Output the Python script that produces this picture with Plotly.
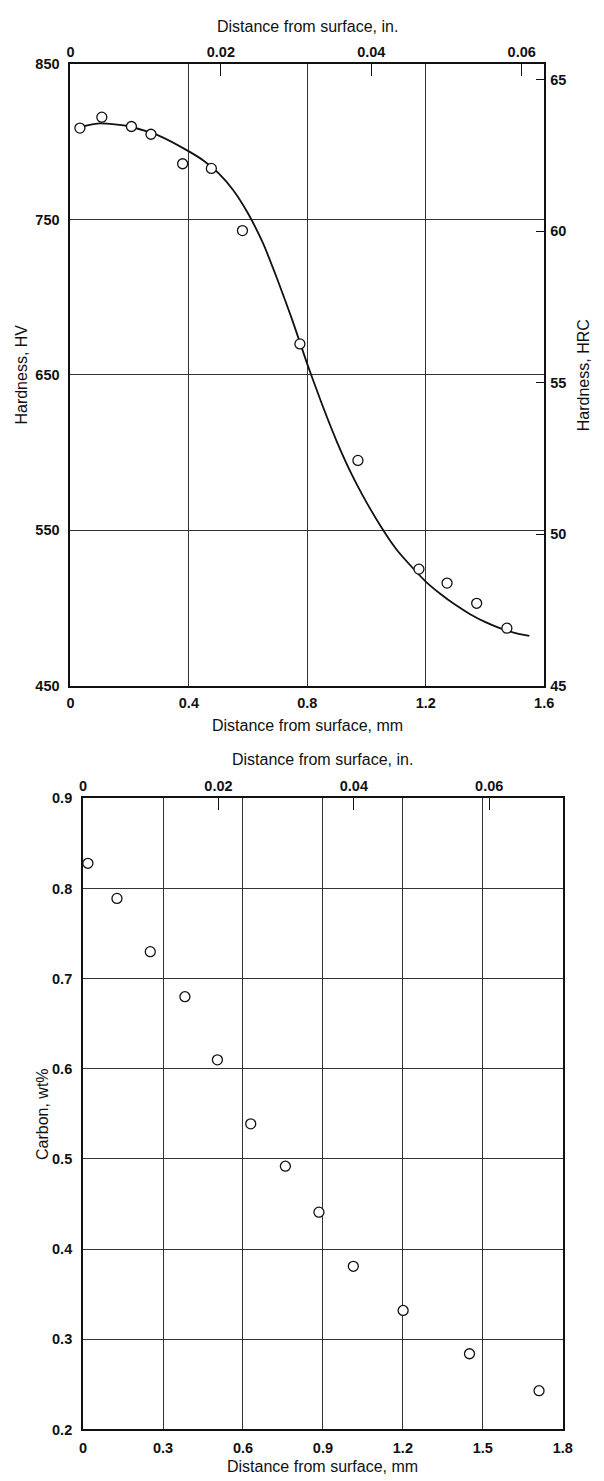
import plotly.graph_objects as go

W, H = 604, 1481
MM_PER_IN = 25.4

# Hardness traverse: measured points (distance in mm, Vickers hardness)
hv_depth_mm = [0.032, 0.106, 0.206, 0.272, 0.379, 0.476, 0.581, 0.775, 0.971, 1.177, 1.272, 1.372, 1.474]
hv_values = [809, 816, 810, 805, 786, 783, 743, 670, 595, 525, 516, 503, 487]

# Faired hardness curve drawn through the measurements
curve_depth_mm = [0.04, 0.10, 0.20, 0.30, 0.40, 0.45, 0.50, 0.55, 0.60, 0.65, 0.70, 0.75,
                  0.80, 0.85, 0.90, 0.95, 1.00, 1.05, 1.10, 1.15, 1.20, 1.25, 1.30, 1.35,
                  1.40, 1.45, 1.50, 1.55]
curve_hv = [810, 812, 810, 804, 794, 788, 780, 769, 754, 735, 711, 685,
            657, 631, 607, 586, 568, 552, 538, 527, 517, 509, 502, 496,
            491, 487, 484, 482]

# Carbon profile: measured points (distance in mm, carbon wt%)
carbon_depth_mm = [0.018, 0.127, 0.252, 0.382, 0.504, 0.629, 0.759, 0.885, 1.014, 1.201, 1.450, 1.711]
carbon_wt = [0.828, 0.789, 0.730, 0.680, 0.610, 0.539, 0.492, 0.441, 0.381, 0.332, 0.284, 0.243]

# Tick labels
hv_ticks = [450, 550, 650, 750, 850]
hrc_ticks = [45, 50, 55, 60, 65]
mm_ticks_top = [0, 0.4, 0.8, 1.2, 1.6]
mm_ticks_bottom = [0, 0.3, 0.6, 0.9, 1.2, 1.5, 1.8]
carbon_ticks = [0.2, 0.3, 0.4, 0.5, 0.6, 0.7, 0.8, 0.9]
inch_ticks = [0, 0.02, 0.04, 0.06]

FONT = "Liberation Sans, Arial, sans-serif"
TICK_FONT = dict(family=FONT, size=14.5, color="#111", weight="bold")
TITLE_FONT = dict(family=FONT, size=16, color="#111")
GRID = "#333333"


def px_x(p):
    return p / W


def px_y(p):
    return 1 - p / H


# plot-area rectangles in pixels (left, right, top, bottom)
TOP = (68, 553, 57, 685)
BOT = (81, 572, 799, 1437)

open_marker = dict(symbol="circle", size=10, color="white", line=dict(color="#111", width=1.3))

fig = go.Figure()

fig.add_trace(go.Scatter(
    x=curve_depth_mm, y=curve_hv, mode="lines",
    line=dict(color="#111", width=1.8, shape="spline", smoothing=0.6),
    xaxis="x", yaxis="y", hoverinfo="skip", showlegend=False))
fig.add_trace(go.Scatter(
    x=hv_depth_mm, y=hv_values, mode="markers", marker=open_marker,
    xaxis="x", yaxis="y", showlegend=False))
fig.add_trace(go.Scatter(
    x=carbon_depth_mm, y=carbon_wt, mode="markers", marker=open_marker,
    xaxis="x3", yaxis="y3", showlegend=False))

# empty traces so the secondary (inch / HRC) scales get drawn
for xa, ya in (("x2", "y"), ("x", "y2"), ("x4", "y3")):
    fig.add_trace(go.Scatter(x=[], y=[], mode="none", xaxis=xa, yaxis=ya,
                             showlegend=False, hoverinfo="skip"))

top_xdom = [px_x(TOP[0]), px_x(TOP[1])]
top_ydom = [px_y(TOP[3]), px_y(TOP[2])]
bot_xdom = [px_x(BOT[0]), px_x(BOT[1])]
bot_ydom = [px_y(BOT[3]), px_y(BOT[2])]

common_main = dict(showline=True, linewidth=2, linecolor="#111", mirror=True,
                   showgrid=True, gridcolor=GRID, gridwidth=1, zeroline=False,
                   ticks="", tickfont=TICK_FONT)
inch_axis = dict(side="top", tickvals=inch_ticks, ticktext=[f"{v:g}" for v in inch_ticks],
                 ticks="inside", ticklen=12, tickwidth=1.2, tickcolor="#111",
                 showgrid=False, zeroline=False, showline=False,
                 tickfont=TICK_FONT, ticklabelstandoff=3)

fig.update_layout(
    width=W, height=H,
    margin=dict(l=0, r=0, t=0, b=0),
    paper_bgcolor="white", plot_bgcolor="white",
    showlegend=False,
    xaxis=dict(domain=top_xdom, anchor="y", range=[0, 1.6],
               tickvals=mm_ticks_top, ticktext=[f"{v:g}" for v in mm_ticks_top],
               ticklabelstandoff=3, **common_main),
    yaxis=dict(domain=top_ydom, anchor="x", range=[450, 850],
               tickvals=hv_ticks, ticklabelstandoff=6, **common_main),
    xaxis2=dict(overlaying="x", anchor="y", range=[0, 1.6 / MM_PER_IN], **inch_axis),
    yaxis2=dict(overlaying="y", anchor="x", side="right", range=[45, 65.5],
                tickvals=hrc_ticks, ticks="inside", ticklen=8, tickwidth=1.2,
                tickcolor="#111", showgrid=False, zeroline=False, showline=False,
                tickfont=TICK_FONT, ticklabelstandoff=5),
    xaxis3=dict(domain=bot_xdom, anchor="y3", range=[0, 1.8],
                tickvals=mm_ticks_bottom, ticktext=[f"{v:g}" for v in mm_ticks_bottom],
                ticklabelstandoff=4, **common_main),
    yaxis3=dict(domain=bot_ydom, anchor="x3", range=[0.2, 0.9],
                tickvals=carbon_ticks, ticktext=[f"{v:.1f}" for v in carbon_ticks],
                ticklabelstandoff=6, **common_main),
    xaxis4=dict(overlaying="x3", anchor="y3", range=[0, 1.8 / MM_PER_IN], **inch_axis),
)

# Axis titles
titles = [
    ("Distance from surface, in.", (TOP[0] + TOP[1]) / 2, 19, 0),
    ("Distance from surface, mm", (TOP[0] + TOP[1]) / 2, 725, 0),
    ("Hardness, HV", 18, (TOP[2] + TOP[3]) / 2, -90),
    ("Hardness, HRC", 594, (TOP[2] + TOP[3]) / 2, -90),
    ("Distance from surface, in.", (BOT[0] + BOT[1]) / 2, 760, 0),
    ("Distance from surface, mm", (BOT[0] + BOT[1]) / 2, 1474, 0),
    ("Carbon, wt%", 40, (BOT[2] + BOT[3]) / 2, -90),
]
for text, x, y, ang in titles:
    fig.add_annotation(text=text, x=px_x(x), y=px_y(y), xref="paper", yref="paper",
                       showarrow=False, textangle=ang, font=TITLE_FONT,
                       xanchor="center", yanchor="middle")

fig.write_html("out.html")
